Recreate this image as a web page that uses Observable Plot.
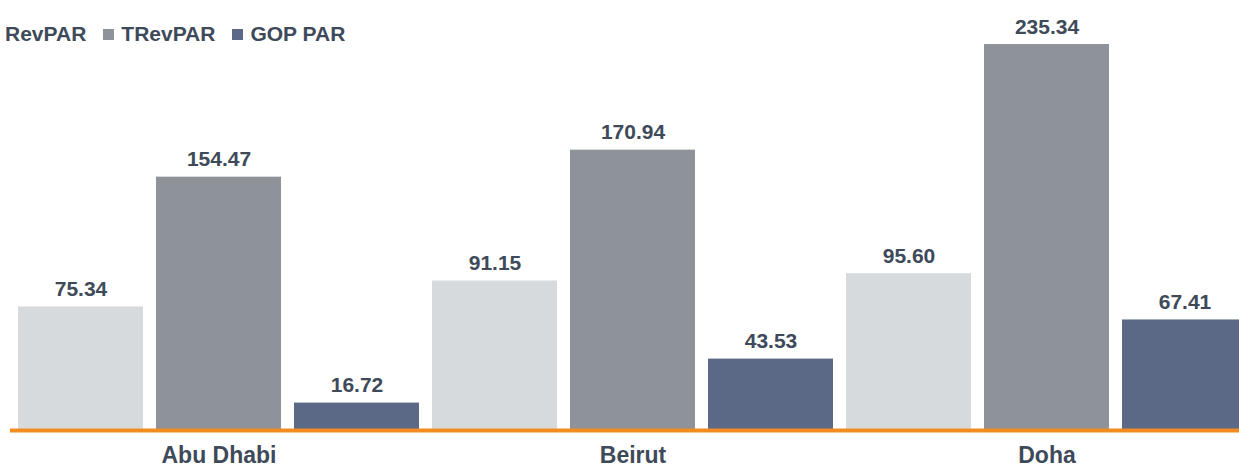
<!DOCTYPE html>
<html>
<head>
<meta charset="utf-8">
<script src="https://cdn.jsdelivr.net/npm/d3@7"></script>
<script src="https://cdn.jsdelivr.net/npm/@observablehq/plot@0.6"></script>
<style>
  html, body { margin: 0; padding: 0; background: #fff; overflow: hidden; }
  #wrap { position: relative; width: 1239px; height: 468px; font-family: "Liberation Sans", Arial, sans-serif; }
  #legend { position: absolute; left: -13px; top: 22px; display: flex; align-items: center; font-size: 21px; font-weight: bold; color: #3e4a59; white-space: nowrap; }
  #legend .item { display: flex; align-items: center; margin-right: 17px; }
  #legend .sw { width: 11px; height: 11px; margin-right: 7px; }
  #chart { position: absolute; left: 0; top: 0; }
</style>
</head>
<body>
<div id="wrap">
  <div id="chart"></div>
  <div id="legend"></div>
</div>
<script>
const cities = ["Abu Dhabi", "Beirut", "Doha"];
const series = ["RevPAR", "TRevPAR", "GOP PAR"];
const revpar = [75.34, 91.15, 95.60];
const trevpar = [154.47, 170.94, 235.34];
const goppar = [16.72, 43.53, 67.41];
const colors = ["#d7dadd", "#8e9299", "#5c6986"];
const textColor = "#3e4a59";

const valuesBySeries = [revpar, trevpar, goppar];
const key = (c, s) => c + "|" + s;
const data = [];
cities.forEach((c, i) => series.forEach((s, j) => data.push({city: c, series: s, key: key(c, s), value: valuesBySeries[j][i]})));

const chart = Plot.plot({
  width: 1239,
  height: 468,
  marginLeft: 10,
  marginRight: 0,
  marginTop: 0,
  marginBottom: 38,
  style: {fontFamily: "'Liberation Sans', Arial, sans-serif", background: "transparent"},
  x: {type: "band", domain: data.map(d => d.key), range: [17, 1247.4], paddingInner: 0.0953, paddingOuter: 0, axis: null},
  y: {domain: [0, 250], range: [430, 20], axis: null},
  color: {domain: series, range: colors},
  marks: [
    Plot.barY(data, {x: "key", y: "value", fill: "series"}),
    Plot.ruleY([0], {stroke: "#f28b20", strokeWidth: 4}),
    Plot.text(data, {x: "key", y: "value", text: d => d.value.toFixed(2), dy: -11, lineAnchor: "bottom", fontSize: 21, fontWeight: "bold", fill: textColor}),
    Plot.text(cities, {x: c => key(c, "TRevPAR"), y: () => 0, text: c => c, dy: 32, lineAnchor: "bottom", fontSize: 23, fontWeight: "bold", fill: textColor})
  ]
});
document.getElementById("chart").appendChild(chart);

const legend = document.getElementById("legend");
series.forEach((s, j) => {
  const item = document.createElement("div");
  item.className = "item";
  const sw = document.createElement("span");
  sw.className = "sw";
  sw.style.background = colors[j];
  const label = document.createElement("span");
  label.textContent = s;
  item.appendChild(sw);
  item.appendChild(label);
  legend.appendChild(item);
});
</script>
</body>
</html>
